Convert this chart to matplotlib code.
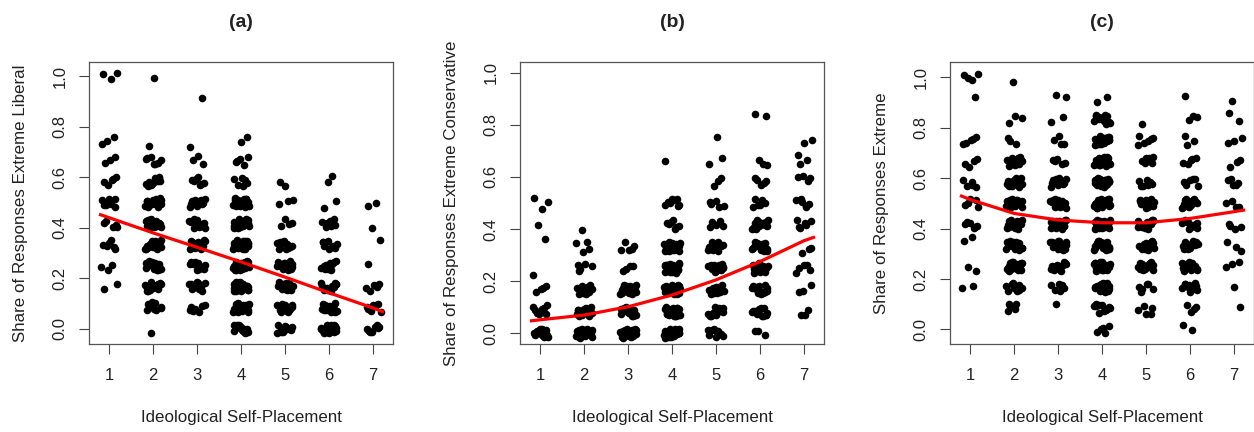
import matplotlib
matplotlib.use("Agg")
import matplotlib.pyplot as plt

plt.rcParams["font.family"] = ["Liberation Sans", "DejaVu Sans"]

# share values per ideology group, stored as (share, number of respondents)
liberal = [
    [(1.0, 3), (0.75, 3), (0.667, 3), (0.583, 5), (0.5, 9), (0.417, 5), (0.333, 6), (0.24, 3), (0.17, 2)],
    [(0.98, 1), (0.73, 1), (0.667, 7), (0.583, 14), (0.5, 18), (0.417, 18), (0.333, 22), (0.25, 22), (0.167, 16), (0.09, 9), (-0.015, 1)],
    [(0.9, 1), (0.73, 1), (0.667, 3), (0.583, 7), (0.5, 10), (0.417, 12), (0.333, 17), (0.25, 14), (0.167, 12), (0.083, 7)],
    [(0.74, 2), (0.667, 5), (0.583, 6), (0.5, 20), (0.417, 26), (0.333, 26), (0.25, 26), (0.167, 26), (0.083, 26), (0.0, 16)],
    [(0.58, 2), (0.5, 3), (0.417, 4), (0.333, 11), (0.25, 13), (0.167, 13), (0.083, 13), (0.0, 11)],
    [(0.59, 2), (0.49, 2), (0.417, 8), (0.333, 10), (0.25, 10), (0.167, 12), (0.083, 17), (0.0, 20)],
    [(0.49, 2), (0.41, 1), (0.35, 1), (0.24, 1), (0.167, 5), (0.083, 8), (0.0, 8)],
]
conservative = [
    [(0.51, 1), (0.49, 2), (0.42, 1), (0.35, 1), (0.24, 1), (0.167, 4), (0.09, 8), (0.0, 14)],
    [(0.4, 1), (0.34, 3), (0.32, 1), (0.25, 5), (0.167, 14), (0.083, 17), (0.0, 22)],
    [(0.333, 5), (0.25, 4), (0.167, 20), (0.083, 20), (0.0, 20)],
    [(0.68, 1), (0.5, 8), (0.417, 7), (0.333, 22), (0.25, 26), (0.167, 26), (0.083, 26), (0.0, 22)],
    [(0.75, 1), (0.66, 2), (0.58, 3), (0.5, 5), (0.417, 5), (0.333, 12), (0.25, 11), (0.167, 12), (0.083, 14), (0.0, 9)],
    [(0.83, 2), (0.66, 3), (0.58, 5), (0.5, 6), (0.417, 16), (0.333, 17), (0.25, 17), (0.167, 14), (0.083, 14), (0.0, 3)],
    [(0.74, 2), (0.667, 3), (0.59, 4), (0.5, 6), (0.417, 6), (0.32, 3), (0.25, 5), (0.17, 3), (0.085, 2), (0.06, 1)],
]
extreme = [
    [(1.0, 4), (0.91, 1), (0.75, 5), (0.66, 4), (0.58, 5), (0.5, 5), (0.417, 6), (0.35, 2), (0.25, 2), (0.16, 2)],
    [(0.99, 1), (0.83, 3), (0.75, 3), (0.667, 12), (0.583, 16), (0.5, 20), (0.417, 22), (0.333, 16), (0.25, 22), (0.167, 10), (0.09, 5)],
    [(0.93, 2), (0.83, 2), (0.75, 4), (0.667, 5), (0.583, 10), (0.5, 16), (0.417, 20), (0.333, 20), (0.25, 14), (0.167, 6), (0.1, 1)],
    [(0.91, 2), (0.833, 14), (0.75, 20), (0.667, 20), (0.583, 22), (0.5, 28), (0.417, 28), (0.333, 26), (0.25, 26), (0.167, 22), (0.083, 12), (0.0, 5)],
    [(0.83, 1), (0.75, 6), (0.667, 6), (0.583, 7), (0.5, 14), (0.417, 16), (0.333, 16), (0.25, 14), (0.167, 6), (0.075, 5)],
    [(0.93, 1), (0.84, 3), (0.75, 3), (0.667, 5), (0.583, 7), (0.5, 16), (0.417, 14), (0.333, 14), (0.25, 14), (0.167, 10), (0.085, 4), (0.005, 2)],
    [(0.9, 1), (0.84, 2), (0.75, 3), (0.66, 3), (0.58, 5), (0.5, 4), (0.41, 4), (0.33, 3), (0.255, 3), (0.16, 1), (0.1, 1)],
]

# smoothed fit lines
fit_x = [0.8, 1, 2, 3, 4, 5, 6, 7, 7.22]
fit_liberal = [0.452, 0.44, 0.38, 0.323, 0.265, 0.205, 0.143, 0.083, 0.068]
fit_conservative = [0.048, 0.052, 0.07, 0.102, 0.147, 0.205, 0.275, 0.355, 0.368]
fit_extreme = [0.529, 0.515, 0.46, 0.434, 0.423, 0.423, 0.44, 0.467, 0.473]

placements = [1, 2, 3, 4, 5, 6, 7]

# fixed jitter table so overlapping respondents spread out
jit_x = [-0.15, 0.04, 0.17, -0.05, 0.11, -0.17, 0.01, 0.13, -0.10, 0.07, -0.02, 0.16, -0.12, 0.09,
         -0.07, 0.03, 0.14, -0.16, 0.05, -0.04, 0.12, -0.11, 0.00, 0.18, -0.13, 0.08, -0.08, 0.15,
         -0.01, 0.10, -0.14, 0.04, -0.06, 0.12, -0.18, 0.06, -0.03, 0.17, -0.12, 0.02, -0.09]
jit_y = [0.008, -0.012, 0.015, -0.004, 0.011, -0.016, 0.002, 0.013, -0.009, 0.006, -0.014, 0.017,
         -0.002, 0.009, -0.011, 0.004, -0.017, 0.012, -0.006, 0.000, 0.014, -0.008, 0.016, -0.013,
         0.003, -0.015, 0.010, -0.005, 0.007, -0.010, 0.001, 0.018, -0.003, -0.018, 0.005, 0.012, -0.007]

panels = [
    ("(a)", "Share of Responses Extreme Liberal", liberal, fit_liberal, 0.0710, (-0.06, 1.057)),
    ("(b)", "Share of Responses Extreme Conservative", conservative, fit_conservative, 0.4147, (-0.041, 1.041)),
    ("(c)", "Share of Responses Extreme", extreme, fit_extreme, 0.7576, (-0.058, 1.061)),
]

fig = plt.figure(figsize=(12.54, 4.32), dpi=100)

for title, ylabel, groups, fit, left, ylim in panels:
    ax = fig.add_axes([left, 0.2037, 0.2424, 0.6528])
    xs, ys = [], []
    k = 0
    for pos, group in zip(placements, groups):
        for share, n in group:
            for _ in range(n):
                xs.append(pos + jit_x[k % len(jit_x)])
                ys.append(share + jit_y[k % len(jit_y)])
                k += 1
    ax.scatter(xs, ys, s=30, color="black", linewidths=0, zorder=2)
    ax.plot(fit_x, fit, color="#ff0000", lw=2.3, zorder=3)

    ax.set_xlim(0.54, 7.46)
    ax.set_ylim(*ylim)
    ax.set_xticks(placements)
    ax.set_yticks([0, 0.2, 0.4, 0.6, 0.8, 1.0])
    ax.set_yticklabels(["0.0", "0.2", "0.4", "0.6", "0.8", "1.0"], rotation=90, va="center")
    ax.tick_params(axis="both", length=7.5, width=0.8, color="#444444", labelsize=12, labelcolor="#222222")
    ax.tick_params(axis="x", pad=10)
    ax.tick_params(axis="y", pad=8)
    for sp in ax.spines.values():
        sp.set_color("#555555")
        sp.set_linewidth(0.9)

    ax.set_ylabel(ylabel, fontsize=12.2, color="#222222", va="center")
    ax.yaxis.set_label_coords(-69 / 305, 0.5)
    ax.set_xlabel("Ideological Self-Placement", fontsize=12.2, color="#222222", va="center")
    ax.xaxis.set_label_coords(0.5, -73 / 282)
    ax.text(0.5, 1 + 39 / 282, title, transform=ax.transAxes, ha="center", va="center",
            fontsize=14, fontweight="bold", color="#222222")

fig.savefig("out.png", dpi=100)
